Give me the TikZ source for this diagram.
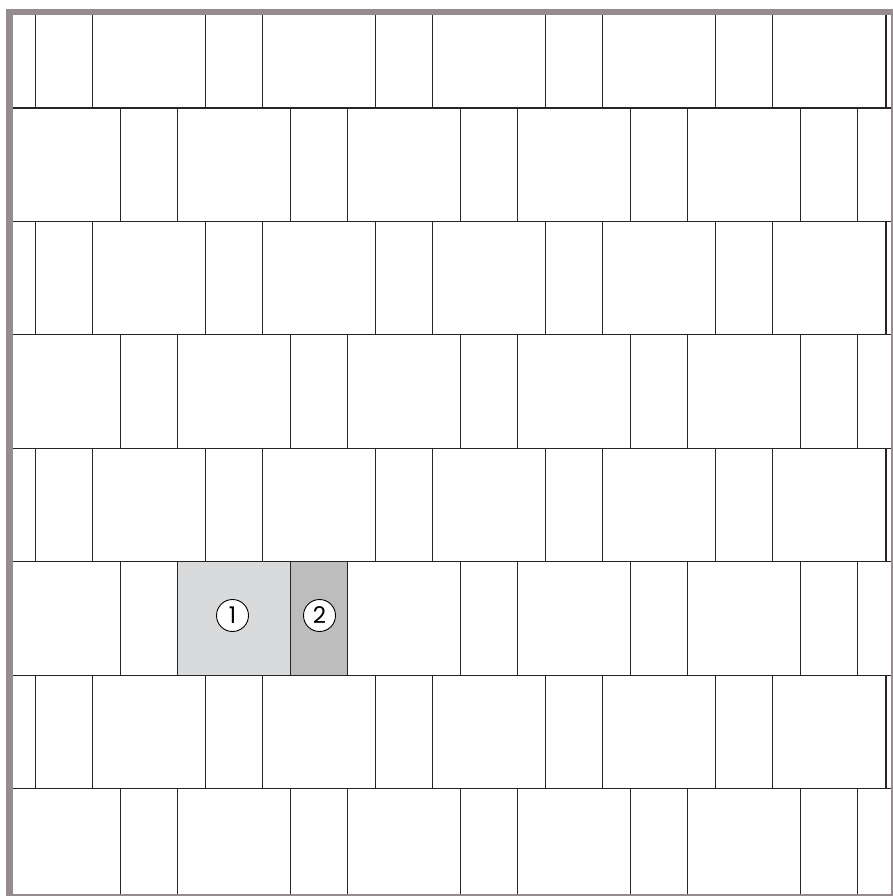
\documentclass[tikz,border=0pt]{standalone}
\usepackage{fontspec}
\setmainfont{Poppins}
\definecolor{framegray}{HTML}{968C8F}
\definecolor{fillone}{HTML}{D9DADC}
\definecolor{filltwo}{HTML}{BDBDBD}
\tikzset{
  joint/.style={line width=1.1pt, draw=black!85},
  numcircle/.style={circle, draw=black, line width=0.9pt, fill=white, minimum size=32pt, inner sep=0pt, font=\fontsize{23}{23}\selectfont},
}
\begin{document}
\begin{tikzpicture}[x=1pt,y=-1pt]
\useasboundingbox (0,0) rectangle (893,896);
\fill[white] (0,0) rectangle (893,896);
% highlighted bricks
\fill[fillone] (177.3,561.9) rectangle (290.7,675.35);
\fill[filltwo] (290.7,561.9) rectangle (347.4,675.35);
% brick joints
\begin{scope}
\clip (13,15) rectangle (891,894);
\foreach \i in {0,...,6}{
  \draw[joint] (13,108+\i*113.45) -- (891,108+\i*113.45);
}
\foreach \r in {0,...,7}{
  \pgfmathsetmacro{\ytop}{\r==0 ? 15 : 108+(\r-1)*113.45}
  \pgfmathsetmacro{\ybot}{\r==7 ? 894 : 108+\r*113.45}
  \pgfmathsetmacro{\xa}{mod(\r,2)==0 ? 35.5 : 120.5}
  \pgfmathsetmacro{\xb}{mod(\r,2)==0 ? 92.3 : 177.3}
  \foreach \k in {0,...,5}{
    \draw[joint] (\xa+\k*170.1,\ytop) -- (\xa+\k*170.1,\ybot);
    \draw[joint] (\xb+\k*170.1,\ytop) -- (\xb+\k*170.1,\ybot);
  }
}
\end{scope}
% frame
\fill[framegray] (6,9) rectangle (893,15);
\fill[framegray] (6,9) rectangle (13,896);
\fill[framegray] (891,9) rectangle (893,896);
\fill[framegray] (6,894) rectangle (893,896);
% labels
\node[numcircle] (one) at (232.5,615.5) {1};
\node[numcircle] (two) at (319.5,615.5) {2};
\end{tikzpicture}
\end{document}
